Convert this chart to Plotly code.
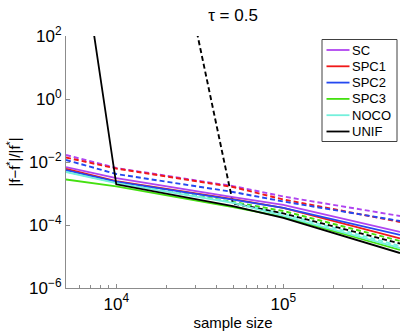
import math
import plotly.graph_objects as go

# sample sizes
sample_size = [5000, 10000, 50000, 100000, 500000]

# relative error |f-f*|/|f*|, solid and dashed runs per method
sc_solid = [6.9e-3, 3.1e-3, 7.7e-4, 4.32e-4, 6.0e-5]
sc_dash = [1.67e-2, 6.45e-3, 1.72e-3, 8.03e-4, 1.93e-4]
spc1_solid = [6.0e-3, 2.49e-3, 6.6e-4, 3.47e-4, 3.73e-5]
spc1_dash = [1.39e-2, 6.2e-3, 1.61e-3, 6.45e-4, 1.25e-4]
spc2_solid = [5.57e-3, 2.40e-3, 6.4e-4, 3.47e-4, 4.82e-5]
spc2_dash = [1.16e-2, 4.16e-3, 1.12e-3, 5.57e-4, 1.34e-4]
spc3_solid = [2.78e-3, 1.67e-3, 3.7e-4, 1.8e-4, 1.61e-5]
spc3_dash = [4.99e-3, 2.23e-3, 5.4e-4, 2.78e-4, 3.1e-5]
noco_solid = [4.82e-3, 2.15e-3, 5.0e-4, 1.93e-4, 1.86e-5]
noco_dash = [5.18e-3, 2.23e-3, 5.2e-4, 2.23e-4, 2.15e-5]
unif_solid = [1.07e8, 1.96e-3, 4.0e-4, 1.67e-4, 1.29e-5]
unif_dash = [1e22, 1.8e14, 4.82e-4, 2.35e-4, 2.59e-5]

methods = ["SC", "SPC1", "SPC2", "SPC3", "NOCO", "UNIF"]
colors = ["#b044f0", "#f01818", "#2448f0", "#44e010", "#74f0dc", "#000000"]
solid = [sc_solid, spc1_solid, spc2_solid, spc3_solid, noco_solid, unif_solid]
dashed = [sc_dash, spc1_dash, spc2_dash, spc3_dash, noco_dash, unif_dash]

W, H = 405, 335
L, R, T, B = 66, 5, 36, 47


def px_x(px):
    # pixel column -> paper x
    return (px - L) / (W - L - R)


def px_y(py):
    # pixel row -> paper y
    return (H - B - py) / (H - T - B)


fig = go.Figure()

# dashed runs first so solid ones sit on top
for name, c, ys in zip(methods, colors, dashed):
    fig.add_trace(go.Scatter(
        x=sample_size, y=ys, mode="lines", name=name, showlegend=False,
        line=dict(color=c, width=1.9, dash="5px,3px"),
    ))

for name, c, ys in zip(methods, colors, solid):
    fig.add_trace(go.Scatter(
        x=sample_size, y=ys, mode="lines", name=name, showlegend=False,
        line=dict(color=c, width=1.8),
    ))

# matlab-style legend box (plotly's own legend rows are too tall here)
shapes = [dict(type="rect", xref="paper", yref="paper",
               x0=px_x(322), x1=px_x(397), y0=px_y(39.5), y1=px_y(141.5),
               line=dict(color="#404040", width=1), fillcolor="white", layer="above")]
annotations = []
for i, (name, c) in enumerate(zip(methods, colors)):
    yc = px_y(50 + i * 16.3)
    shapes.append(dict(type="line", xref="paper", yref="paper",
                       x0=px_x(326.5), x1=px_x(349.5), y0=yc, y1=yc,
                       line=dict(color=c, width=1.8), layer="above"))
    annotations.append(dict(text=name, xref="paper", yref="paper",
                            x=px_x(351), y=yc, xanchor="left", yanchor="middle",
                            showarrow=False, font=dict(size=13), borderpad=0))

ytick_vals = [1e2, 1e0, 1e-2, 1e-4, 1e-6]
ytick_text = ["10<sup>2</sup>", "10<sup>0</sup>", "10<sup>−2</sup>",
              "10<sup>−4</sup>", "10<sup>−6</sup>"]
xtick_vals = [1e4, 1e5]
xtick_text = ["10<sup>4</sup>", "10<sup>5</sup>"]
xminor = [6000, 7000, 8000, 9000, 20000, 30000, 40000, 50000, 60000,
          70000, 80000, 90000, 200000, 300000, 400000]

fig.update_layout(
    width=W, height=H,
    margin=dict(l=L, r=R, t=T, b=B),
    paper_bgcolor="white", plot_bgcolor="white",
    font=dict(family="Liberation Sans, Arial, sans-serif", color="black", size=13),
    title=dict(text="τ = 0.5", x=233 / W, xanchor="center",
               y=1 - 15 / H, yanchor="middle", font=dict(size=17)),
    showlegend=False,
    shapes=shapes,
    annotations=annotations,
)

fig.update_xaxes(
    type="log", range=[math.log10(5000), math.log10(500000)],
    showgrid=False, zeroline=False,
    showline=True, linecolor="#8c8c8c", linewidth=1.2,
    ticks="inside", ticklen=4, tickcolor="#8c8c8c",
    tickvals=xtick_vals, ticktext=xtick_text,
    tickfont=dict(size=17),
    minor=dict(ticks="inside", ticklen=3, tickcolor="#8c8c8c", tickvals=xminor),
    title=dict(text="sample size", font=dict(size=15), standoff=4),
)

fig.update_yaxes(
    type="log", range=[-6, 2],
    showgrid=False, zeroline=False,
    showline=True, linecolor="#8c8c8c", linewidth=1.2,
    ticks="inside", ticklen=4, tickcolor="#8c8c8c",
    tickvals=ytick_vals, ticktext=ytick_text,
    tickfont=dict(size=17),
    title=dict(text="|f−f<sup>*</sup>|/|f<sup>*</sup>|", font=dict(size=15), standoff=4),
)

fig.write_html("out.html", config={"displayModeBar": False},
               post_script="document.body.style.margin='0';")
